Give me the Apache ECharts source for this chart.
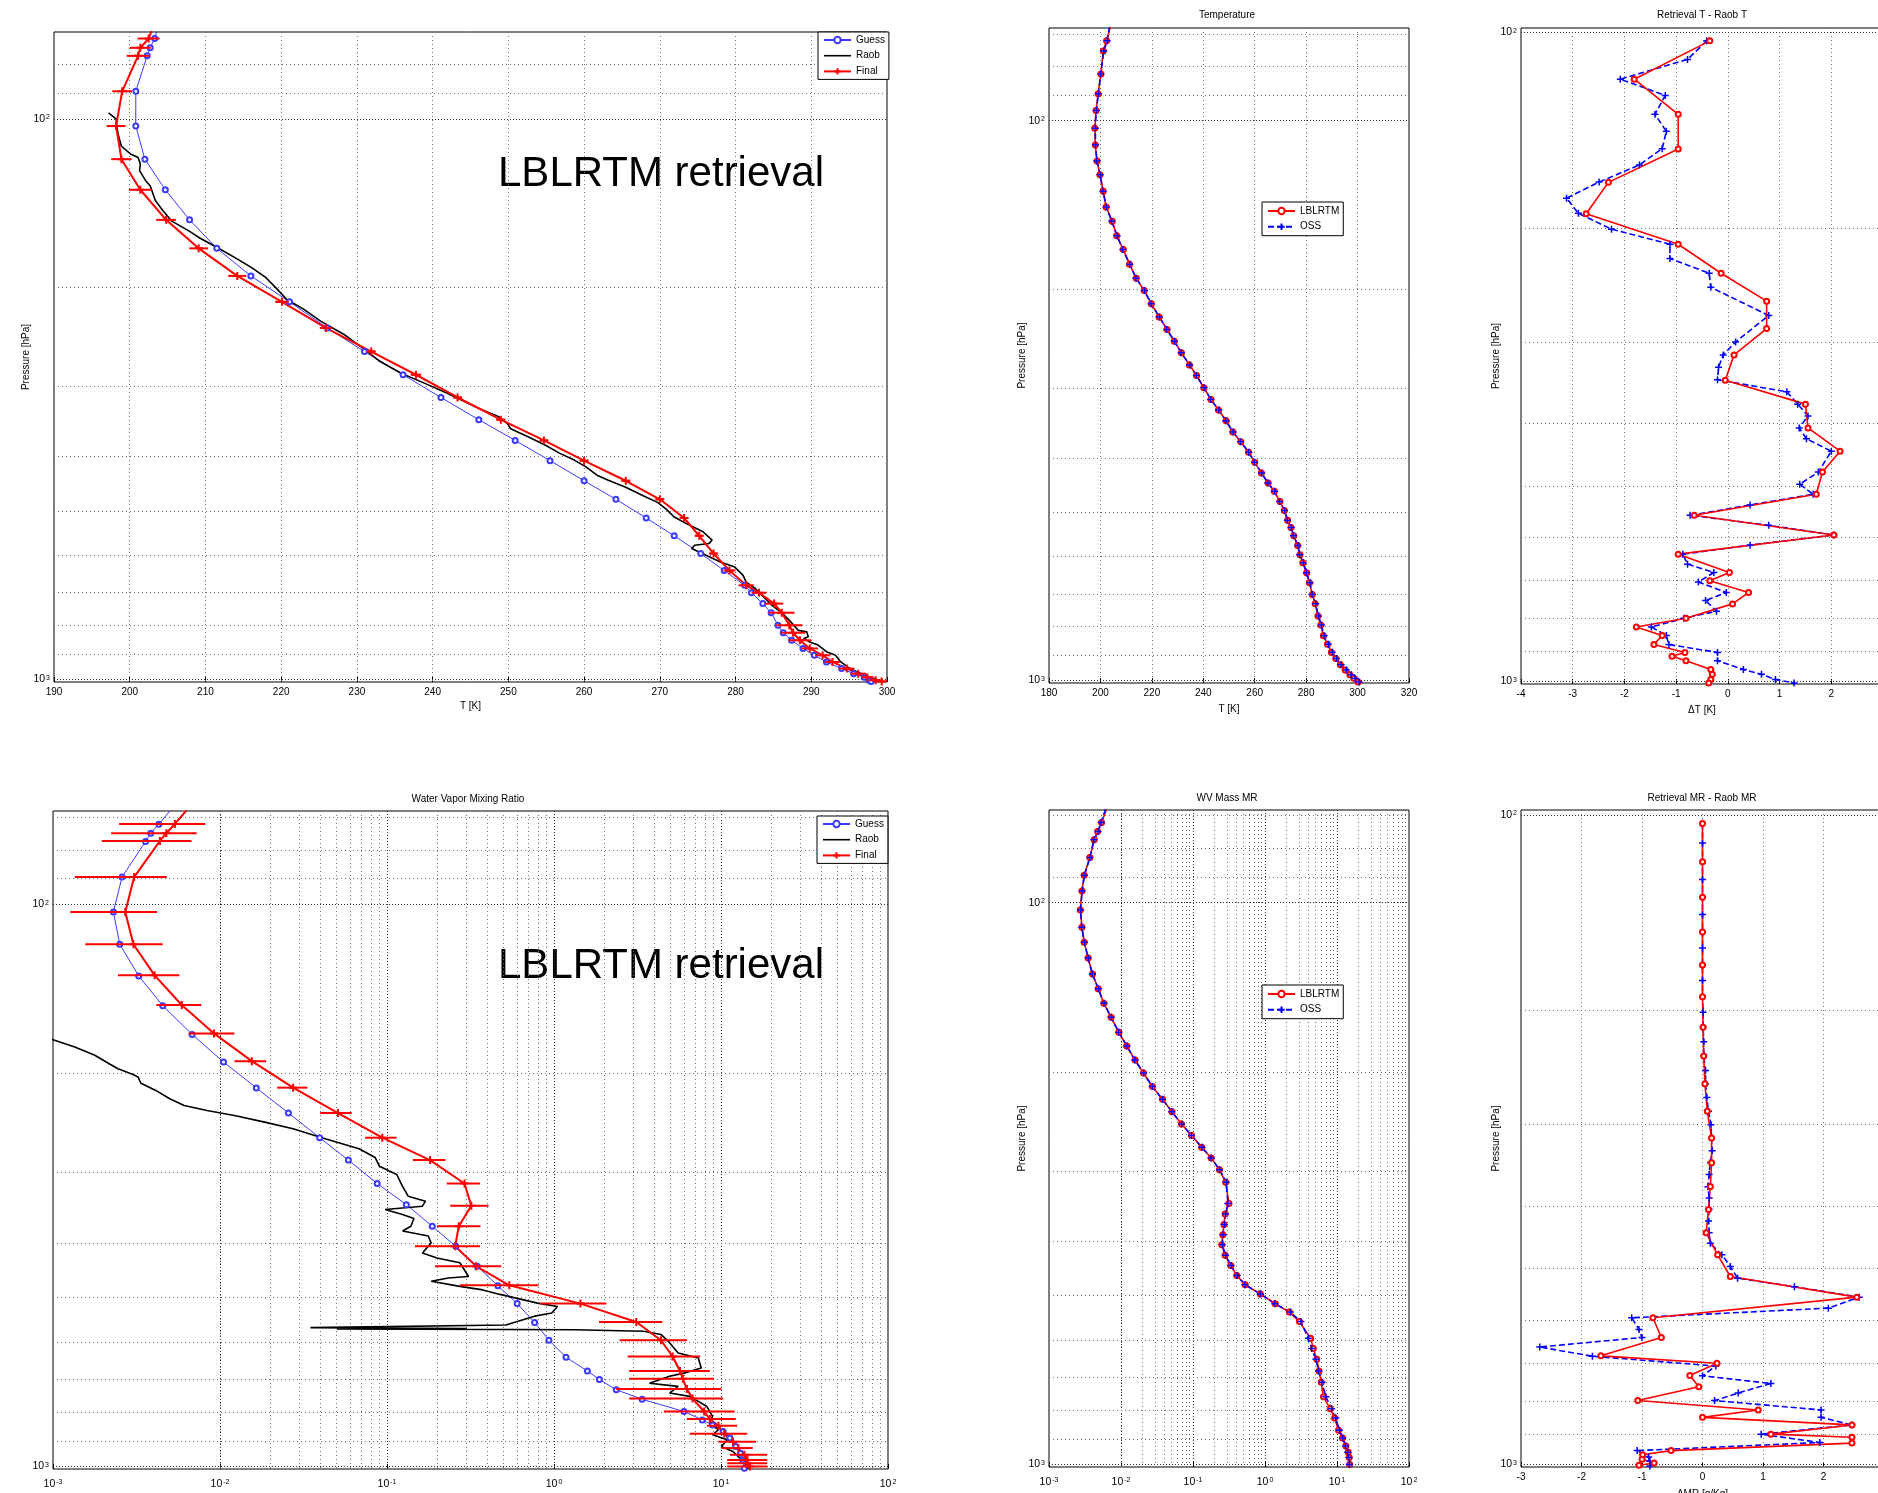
<!DOCTYPE html>
<html>
<head>
<meta charset="utf-8">
<script src="https://cdn.jsdelivr.net/npm/echarts@6/dist/echarts.min.js"></script>
<style>
  html, body { margin: 0; padding: 0; background: #fff; }
  #chart { width: 1878px; height: 1493px; }
</style>
</head>
<body>
<div id="chart"></div>
<script>
const FONT = "'Liberation Sans', Arial, sans-serif"
const PLUS = 'path://M0,5L10,5M5,0L5,10'
const BAR = 'path://M0,0L27,0L27,1.6L0,1.6Z'

// ---- tick / grid levels ----
const P_MINOR_TOP = [70, 80, 90]
const P_LEVELS = [100, 200, 300, 400, 500, 600, 700, 800, 900, 1000]
const W_DECADES = [0.001, 0.01, 0.1, 1, 10, 100]
const W_STEPS = [1, 2, 3, 4, 5, 6, 7, 8, 9]

// ---- top-left: temperature retrieval (K) ----
const tlGuessP = [68, 71.9, 74.7, 77.2, 89.3, 103, 118, 133.8, 151.4, 170.2, 190.6, 212, 236, 260, 286, 314, 344, 374.5, 407, 442, 477, 515, 554, 596, 639, 679, 700, 732, 760, 800, 825, 851, 880, 905, 930, 956, 976, 990, 1003, 1008]
const tlGuessT = [203.8, 203.3, 202.7, 202.3, 200.8, 200.8, 202.0, 204.7, 207.9, 211.5, 216.0, 221.1, 226.1, 231.0, 236.1, 241.1, 246.1, 250.9, 255.5, 260.0, 264.2, 268.2, 271.9, 275.4, 278.5, 281.2, 282.1, 283.6, 284.7, 285.6, 286.3, 287.4, 288.9, 290.4, 292.0, 294.0, 295.6, 297.0, 297.6, 297.9]
const tlFinalT = [203.2, 202.5, 201.4, 201.1, 199.0, 198.2, 198.9, 201.4, 204.8, 209.1, 214.2, 220.1, 225.9, 231.9, 237.8, 243.3, 249.0, 254.7, 260.0, 265.5, 270.0, 273.2, 275.2, 277.1, 279.2, 281.4, 283.1, 285.1, 286.1, 287.1, 287.6, 288.5, 289.8, 291.5, 292.8, 294.7, 296.2, 297.4, 298.5, 299.3]
const tlFinalErr = [1.4, 1.45, 1.4, 1.5, 1.3, 1.25, 1.35, 1.5, 1.3, 1.25, 1.2, 0.9, 0.8, 0.6, 0.7, 0.6, 0.6, 0.6, 0.6, 0.6, 0.6, 0.6, 0.6, 0.6, 0.8, 1.0, 1.0, 1.2, 1.7, 1.7, 1.6, 1.5, 1.1, 1.0, 1.0, 1.0, 1.0, 0.8, 0.8, 0.8]
const tlRaobP = [97.6, 100, 103.5, 107, 111.9, 115.5, 117.2, 120.3, 123.7, 128.9, 131.6, 140, 145.9, 152, 158.4, 163.3, 169.8, 176.8, 184.2, 192, 201.4, 209.8, 218.7, 229.5, 242.4, 259.5, 270, 284.5, 296, 309, 327, 340, 350, 357, 369, 382, 395, 406, 417, 432, 441, 454, 470, 483, 496, 513, 527, 545, 564, 572, 576, 584, 600, 617, 630, 652, 670, 688, 712, 737, 758, 784, 817, 822, 839, 845, 857, 868, 892, 905, 930, 956, 976, 989, 1003, 1010]
const tlRaobT = [197.2, 198.2, 198.3, 198.5, 198.9, 200.1, 201.1, 201.4, 201.3, 202.1, 202.7, 203.4, 204.4, 205.5, 207.8, 209.3, 211.6, 213.9, 216.1, 218.0, 219.5, 220.7, 223.0, 225.2, 228.3, 231.3, 232.9, 235.9, 238.9, 242.0, 245.8, 248.8, 249.9, 250.3, 252.6, 254.9, 256.8, 258.7, 260.2, 261.7, 263.2, 265.5, 267.8, 269.7, 270.8, 271.9, 273.5, 275.7, 276.9, 276.5, 274.6, 274.2, 276.1, 278.0, 279.9, 281.0, 281.4, 282.6, 283.7, 284.8, 286.0, 287.1, 288.3, 289.4, 289.6, 289.0, 289.8, 290.9, 292.0, 293.2, 293.9, 295.1, 296.6, 297.7, 298.9, 299.2]

// ---- top-middle: Temperature, LBLRTM vs OSS ----
const tmP = [67.9, 72.0, 75.1, 82.5, 89.5, 95.9, 103.1, 110.5, 118.0, 124.9, 133.7, 142.6, 151.2, 160.5, 169.8, 180.4, 191.1, 201.1, 212.2, 224.1, 236.0, 247.7, 259.6, 273, 285.1, 299.9, 314.6, 328.6, 343.5, 359.9, 374.5, 390.9, 407.6, 425.8, 443.7, 459, 478.6, 497, 517, 533, 551, 574, 596, 616, 642, 669, 702, 729, 767, 796, 832, 861, 890, 913, 937, 957, 976, 990, 1006]
const tmLblT = [203.9, 202.4, 201.1, 200.2, 199.1, 198.3, 197.8, 198.0, 198.7, 199.8, 201.1, 202.2, 204.6, 206.3, 208.9, 211.3, 213.9, 217.0, 219.8, 222.8, 225.9, 228.7, 231.5, 234.6, 237.4, 240.2, 243.0, 245.9, 248.9, 251.5, 254.6, 257.6, 260.0, 262.6, 265.2, 267.6, 269.8, 271.5, 272.8, 274.1, 275.2, 276.7, 277.6, 278.7, 280.2, 281.3, 282.4, 283.5, 284.6, 285.7, 286.7, 288.3, 289.8, 291.5, 293.3, 295.2, 297.0, 298.5, 300.2]
const tmOssT = [203.5, 202.6, 201.3, 200.1, 199.2, 198.4, 198.0, 198.1, 198.6, 199.9, 201.0, 202.3, 204.4, 206.5, 208.7, 211.4, 213.8, 217.1, 219.7, 222.9, 225.8, 228.8, 231.4, 234.7, 237.3, 240.3, 242.9, 246.0, 248.8, 251.6, 254.5, 257.7, 259.9, 262.7, 265.1, 267.7, 269.7, 271.6, 272.7, 274.2, 275.1, 276.8, 277.5, 278.9, 280.1, 281.5, 282.3, 283.7, 284.8, 285.9, 287.0, 288.6, 290.1, 291.8, 293.6, 295.6, 297.5, 299.0, 300.6]

// ---- top-right: Retrieval T - Raob T (K) ----
const trLblP = [103, 118, 133.7, 151.2, 170.2, 190.3, 212, 235, 259.5, 286, 314, 343.5, 374, 407, 442, 476, 515, 555, 595, 637, 680, 700, 730, 760, 800, 825, 850, 878, 903, 915, 930, 959, 976, 994, 1006]
const trLblD = [-0.35, -1.81, -0.96, -0.96, -2.31, -2.74, -0.96, -0.13, 0.75, 0.75, 0.12, -0.05, 1.50, 1.55, 2.17, 1.83, 1.71, -0.65, 2.05, -0.96, 0.03, -0.35, 0.40, 0.09, -0.81, -1.77, -1.27, -1.43, -0.83, -1.08, -0.81, -0.33, -0.30, -0.33, -0.37]
const trOssP = [103, 110, 118, 125, 133.7, 142, 151, 160, 170, 180, 190, 201, 212, 223, 235, 247, 273, 300, 314, 328, 343, 358, 374, 390, 407, 423, 442, 476, 497, 515, 535, 555, 575, 595, 617, 637, 660, 680, 703, 730, 751, 780, 800, 825, 850, 878, 903, 930, 959, 976, 994, 1006]
const trOssD = [-0.41, -0.78, -2.08, -1.21, -1.41, -1.19, -1.27, -1.71, -2.49, -3.12, -2.89, -2.25, -1.12, -1.12, -0.36, -0.33, 0.79, 0.15, -0.09, -0.18, -0.20, 1.14, 1.35, 1.55, 1.38, 1.52, 2.0, 1.75, 1.39, 1.65, 0.43, -0.73, 0.79, 2.05, 0.43, -0.87, -0.78, -0.27, -0.57, -0.03, -0.43, -0.22, -0.85, -1.48, -1.19, -1.14, -0.20, -0.20, 0.30, 0.65, 0.92, 1.28]

// ---- bottom-left: water vapor mixing ratio (g/kg) ----
const blGuessP = [68.1, 72.0, 74.7, 77.3, 89.4, 103.1, 117.7, 134, 151.4, 170.3, 190.7, 212, 235, 260, 285, 313.7, 342, 373.6, 405.6, 440.3, 476.6, 513, 554, 596, 639, 676, 700, 730, 759, 798, 826, 843, 866, 890, 921, 947, 973, 1007]
const blGuessW = [5.03e-3, 4.30e-3, 3.85e-3, 3.58e-3, 2.59e-3, 2.30e-3, 2.51e-3, 3.26e-3, 4.54e-3, 6.81e-3, 1.05e-2, 1.65e-2, 2.57e-2, 3.95e-2, 5.87e-2, 8.73e-2, 0.1306, 0.1866, 0.258, 0.347, 0.461, 0.602, 0.765, 0.933, 1.18, 1.585, 1.87, 2.36, 3.37, 6.0, 7.73, 8.9, 10.3, 11.3, 12.25, 13.1, 13.5, 13.8]
const blRaobP = [170, 174, 179.3, 185.5, 192, 196, 200.5, 202.7, 208, 214, 221.7, 227.8, 232.6, 237.6, 243.9, 250.7, 260, 272, 282, 292.2, 302.3, 317, 330.4, 337.2, 344.2, 349, 356, 362, 373.6, 381, 389, 400, 417, 425.6, 434, 459, 462, 468, 478, 485, 494, 512, 519, 533, 540, 552, 560, 566, 568, 569, 571, 574.5, 582, 602, 628, 641, 668, 682, 691, 711, 720, 740, 750, 782, 814, 837, 860, 878, 896, 921, 940, 973, 1000, 1008]
const blRaobW = [8e-4, 1.0e-3, 1.35e-3, 1.78e-3, 2.17e-3, 2.45e-3, 2.99e-3, 3.23e-3, 3.36e-3, 4.1e-3, 5.0e-3, 6.1e-3, 8.36e-3, 1.24e-2, 1.85e-2, 2.74e-2, 4.07e-2, 6.8e-2, 8.5e-2, 0.0901, 0.1143, 0.1237, 0.1339, 0.170, 0.163, 0.0975, 0.1237, 0.145, 0.139, 0.124, 0.1767, 0.1837, 0.163, 0.199, 0.273, 0.308, 0.233, 0.184, 0.273, 0.375, 0.475, 0.796, 1.05, 0.97, 0.765, 0.603, 0.515, 0.0348, 0.30, 0.05, 1.33, 3.44, 4.37, 4.92, 5.54, 7.31, 7.62, 6.0, 4.92, 3.73, 5.54, 4.92, 6.5, 8.24, 8.9, 8.57, 9.66, 8.9, 10.9, 10.05, 11.8, 13.3, 14.4, 14.6]
const blFinalP = [68.1, 71.9, 74.7, 77.1, 89.4, 103.1, 117.7, 133.7, 151, 169.6, 190, 211.8, 235, 260, 285, 313.6, 343.5, 373.6, 405.6, 440, 476, 513, 553, 596, 637, 676, 698, 728, 757, 798, 823, 846, 874, 903, 927, 953, 973, 986, 1000]
const blFinalW = [6.28e-3, 5.37e-3, 4.77e-3, 4.37e-3, 3.06e-3, 2.71e-3, 3.03e-3, 4.06e-3, 5.9e-3, 9.2e-3, 1.55e-2, 2.74e-2, 5.09e-2, 9.37e-2, 0.181, 0.291, 0.320, 0.269, 0.256, 0.341, 0.540, 1.44, 3.11, 4.37, 5.13, 5.68, 5.91, 6.25, 6.76, 7.93, 8.57, 9.66, 10.45, 11.8, 12.7, 13.8, 14.4, 14.4, 14.9]
const blFinalLo = [6.28e-3, 2.49e-3, 2.23e-3, 1.96e-3, 1.35e-3, 1.27e-3, 1.56e-3, 2.45e-3, 4.16e-3, 6.49e-3, 1.22e-2, 2.20e-2, 3.98e-2, 7.40e-2, 0.143, 0.228, 0.239, 0.199, 0.147, 0.194, 0.273, 0.828, 1.86, 2.47, 2.76, 2.82, 2.82, 2.36, 2.82, 4.55, 6.25, 8.24, 6.50, 9.66, 10.05, 11.3, 10.9, 10.9, 10.9]
const blFinalHi = [6.28e-3, 8.17e-3, 7.24e-3, 6.75e-3, 4.80e-3, 4.20e-3, 4.54e-3, 5.71e-3, 7.73e-3, 1.22e-2, 1.89e-2, 3.34e-2, 6.15e-2, 0.114, 0.224, 0.361, 0.406, 0.363, 0.361, 0.483, 0.809, 2.06, 4.45, 6.25, 7.50, 8.57, 9.06, 10.05, 10.3, 12.05, 12.25, 12.5, 14.35, 16.2, 15.5, 18.9, 18.9, 18.9, 18.9]

// ---- bottom-middle: WV Mass MR, LBLRTM vs OSS ----
const bmP = [68.1, 72.0, 74.7, 77.3, 83.1, 89.4, 95.3, 103.0, 110.6, 117.6, 125.5, 134, 142.3, 151, 160, 170.1, 180, 190.6, 201, 212.5, 223.9, 235.5, 247.6, 259.6, 272.5, 284.6, 298.6, 314.5, 343.2, 358.1, 373.8, 389.8, 406.2, 424.2, 442.2, 460.9, 478.6, 496.9, 517.4, 535.4, 556.6, 596.2, 621.4, 649.8, 681.4, 714, 757.4, 795.7, 826.2, 868.8, 896.5, 927, 951, 971, 1000]
const bmLblW = [6.3e-3, 5.37e-3, 4.73e-3, 4.25e-3, 3.69e-3, 3.08e-3, 2.87e-3, 2.72e-3, 2.87e-3, 3.08e-3, 3.49e-3, 4.03e-3, 4.82e-3, 5.77e-3, 7.28e-3, 9.34e-3, 0.0120, 0.0157, 0.0205, 0.0273, 0.0377, 0.0510, 0.0692, 0.0955, 0.132, 0.179, 0.233, 0.284, 0.316, 0.279, 0.269, 0.260, 0.251, 0.279, 0.334, 0.406, 0.531, 0.861, 1.39, 2.18, 3.01, 4.30, 4.70, 5.24, 5.62, 6.04, 6.49, 8.04, 9.27, 10.5, 11.9, 13.3, 14.3, 14.8, 15.0]
const bmOssW = [6.1e-3, 5.3e-3, 4.8e-3, 4.2e-3, 3.7e-3, 3.1e-3, 2.88e-3, 2.75e-3, 2.85e-3, 3.1e-3, 3.5e-3, 4.0e-3, 4.85e-3, 5.8e-3, 7.3e-3, 9.3e-3, 0.0121, 0.0156, 0.0206, 0.0272, 0.0378, 0.0508, 0.0695, 0.0950, 0.133, 0.178, 0.234, 0.290, 0.305, 0.283, 0.272, 0.262, 0.255, 0.283, 0.338, 0.41, 0.525, 0.86, 1.37, 2.25, 3.15, 4.0, 4.45, 5.1, 5.55, 6.2, 7.0, 8.4, 9.6, 10.8, 12.0, 13.2, 14.1, 14.6, 14.9]

// ---- bottom-right: Retrieval MR - Raob MR (g/kg) ----
const brLblP = [103.1, 118.1, 133.9, 151.5, 170.3, 190.6, 212.3, 235.1, 259.6, 286, 314.4, 343.4, 373.7, 405.3, 440.3, 476, 514, 553, 595, 638, 681, 699, 730, 760, 798, 825, 847, 870, 899, 909, 928, 953, 967, 983, 996, 1004]
const brLblD = [0, 0, 0, 0, 0, 0, 0.01, 0.02, 0.04, 0.08, 0.15, 0.15, 0.13, 0.10, 0.06, 0.25, 0.46, 2.55, -0.82, -0.68, -1.68, 0.24, -0.21, -0.06, -1.07, 0.92, 0.0, 2.47, 1.13, 2.47, 2.47, -0.52, -0.99, -1.0, -0.80, -1.05]
const brOssP = [103, 110.5, 118, 125.8, 133.9, 142.4, 151.5, 160.3, 170.3, 180, 190.6, 201.3, 212.3, 223.5, 235, 247.5, 259.6, 272.5, 286, 300, 314, 329, 343, 358, 374, 389, 405, 422, 440, 457, 476, 496, 517, 533, 553, 575, 595, 620, 638, 660, 682, 706, 731, 751, 777, 798, 825, 847, 870, 899, 926, 953, 975, 990, 1006]
const brOssD = [0, 0, 0, 0, 0, 0, 0, 0, 0, 0, 0, 0.01, 0.01, 0.02, 0.02, 0.05, 0.05, 0.07, 0.10, 0.14, 0.15, 0.16, 0.13, 0.11, 0.09, 0.11, 0.11, 0.10, 0.11, 0.13, 0.32, 0.46, 0.58, 1.52, 2.59, 2.08, -1.17, -1.05, -1.0, -2.69, -1.82, 0.22, 0.0, 1.13, 0.59, 0.20, 1.96, 1.96, 2.47, 0.97, 1.94, -1.08, -0.89, -0.87, -0.87]

// ---- layout ----
const GRIDS = [
  { left: 54, top: 32, width: 833, height: 650 },    // TL
  { left: 1049, top: 28, width: 360, height: 655 },  // TM
  { left: 1521, top: 28, width: 362, height: 656 },  // TR
  { left: 53, top: 811, width: 835, height: 658 },   // BL
  { left: 1049, top: 810, width: 360, height: 657 }, // BM
  { left: 1521, top: 810, width: 363, height: 657 }, // BR
]

const TXT = { fontFamily: FONT, fontSize: 10, color: '#000' }
const RICH = {
  b: { fontFamily: FONT, fontSize: 10.5, color: '#000', lineHeight: 10, padding: [5, 0, 5, 0] },
  s: { fontFamily: FONT, fontSize: 7, color: '#000', lineHeight: 7, verticalAlign: 'top', padding: [0, 0, 0, 1] },
}

function powLabel(v) {
  const e = Math.log10(v)
  if (Math.abs(e - Math.round(e)) > 1e-6) return ''
  return '{b|10}{s|' + Math.round(e) + '}'
}

function pAxis(idx, min, name, nameGap) {
  return {
    type: 'log', logBase: 10, gridIndex: idx, inverse: true, min, max: 1010,
    name: name || '', nameLocation: 'middle', nameGap: nameGap || 23, nameMoveOverlap: false, nameTextStyle: TXT,
    axisLine: { show: false }, axisTick: { show: false }, splitLine: { show: false },
    axisLabel: { formatter: powLabel, margin: 4, rich: RICH },
  }
}

function valAxis(idx, min, max, interval, name, nameGap) {
  return {
    type: 'value', gridIndex: idx, min, max, interval,
    name: name || '', nameLocation: 'middle', nameGap: nameGap || 20, nameMoveOverlap: false, nameTextStyle: TXT,
    axisLine: { show: false }, splitLine: { show: false },
    axisTick: { show: true, inside: true, length: 5, lineStyle: { color: '#000' } },
    axisLabel: Object.assign({ margin: 5 }, TXT),
  }
}

function wAxis(idx) {
  return {
    type: 'log', logBase: 10, gridIndex: idx, min: 0.001, max: 100,
    axisLine: { show: false }, splitLine: { show: false },
    axisTick: { show: true, inside: true, length: 5, lineStyle: { color: '#000' } },
    axisLabel: { formatter: powLabel, margin: 10, rich: RICH },
  }
}

const MINOR = { color: '#707070', type: [1, 3], width: 1 }
const MAJOR = { color: '#303030', type: [1, 2], width: 1 }

function gridSeries(idx, xs, ys, majorX, majorY) {
  const items = []
  xs.forEach(v => items.push({ xAxis: v, lineStyle: majorX.includes(v) ? MAJOR : MINOR }))
  ys.forEach(v => items.push({ yAxis: v, lineStyle: majorY.includes(v) ? MAJOR : MINOR }))
  return {
    type: 'line', xAxisIndex: idx, yAxisIndex: idx, data: [], silent: true,
    markLine: { silent: true, symbol: 'none', z: 1, animation: false, label: { show: false }, data: items },
  }
}

function lineSeries(name, idx, xs, ys, style) {
  return Object.assign({
    name, type: 'line', xAxisIndex: idx, yAxisIndex: idx, animation: false, z: 3,
    data: xs.map((x, i) => [x, ys[i]]),
  }, style)
}

function errorSeries(idx, lo, hi, ys) {
  return {
    type: 'custom', xAxisIndex: idx, yAxisIndex: idx, silent: true, animation: false, z: 4, clip: true,
    data: ys.map((p, i) => [lo[i], hi[i], p]),
    encode: { x: [0, 1], y: 2 },
    renderItem: (params, api) => {
      const a = api.coord([api.value(0), api.value(2)])
      const b = api.coord([api.value(1), api.value(2)])
      return { type: 'line', shape: { x1: a[0], y1: a[1], x2: b[0], y2: b[1] }, style: { stroke: '#ff0000', lineWidth: 2 } }
    },
  }
}

const GUESS = { symbol: 'emptyCircle', symbolSize: 5, lineStyle: { color: '#3a3aff', width: 1 }, itemStyle: { color: '#3a3aff', borderWidth: 1 } }
const RAOB = { symbol: 'none', lineStyle: { color: '#000', width: 1.6 }, itemStyle: { color: '#000' } }
const FINAL = { symbol: PLUS, symbolSize: 8, lineStyle: { color: '#ff0000', width: 2 }, itemStyle: { color: '#ff0000', borderColor: '#ff0000', borderWidth: 2 } }
const LBL = { symbol: 'emptyCircle', symbolSize: 5, lineStyle: { color: '#ff0000', width: 1.6 }, itemStyle: { color: '#ff0000', borderWidth: 1.2 } }
const OSS = { symbol: PLUS, symbolSize: 7, lineStyle: { color: '#0000ff', width: 1.6, type: [6, 3] }, itemStyle: { color: '#0000ff', borderColor: '#0000ff', borderWidth: 1.5 } }

const tRange = (a, b, s) => { const r = []; for (let v = a; v <= b + 1e-9; v += s) r.push(+v.toFixed(6)); return r }
const wGrid = W_DECADES.slice(0, -1).flatMap(d => W_STEPS.map(k => +(d * k).toPrecision(3))).filter(v => v > 0.001)

function legend(names, left, top, pad) {
  return {
    data: names, left, top, orient: 'vertical', selectedMode: false,
    itemWidth: 27, itemHeight: 8, itemGap: 5.7, padding: [pad, 4, pad, 5],
    borderColor: '#000', borderWidth: 1, backgroundColor: '#fff',
    textStyle: Object.assign({ lineHeight: 10 }, TXT),
  }
}

function label(text, x, y, size) {
  return { type: 'text', x, y, silent: true, style: { text, fontFamily: FONT, fontSize: size || 10, fill: '#000', align: 'center', verticalAlign: 'middle' } }
}

const RETR_NAMES = ['Guess', { name: 'Raob', icon: BAR }, 'Final']

const option = {
  animation: false,
  backgroundColor: '#fff',
  textStyle: { fontFamily: FONT },
  grid: GRIDS.map(g => Object.assign({ show: true, borderColor: '#000', borderWidth: 1, backgroundColor: 'transparent', containLabel: false, outerBoundsMode: 'none' }, g)),
  xAxis: [
    valAxis(0, 190, 300, 10, 'T [K]', 19),
    valAxis(1, 180, 320, 20, 'T [K]', 21),
    valAxis(2, -4, 3, 1, 'ΔT [K]', 21),
    wAxis(3),
    wAxis(4),
    valAxis(5, -3, 3, 1, 'ΔMR [g/Kg]', 22),
  ],
  yAxis: [
    pAxis(0, 70, 'Pressure [hPa]', 23),
    pAxis(1, 68.3, 'Pressure [hPa]', 22),
    pAxis(2, 98.4, 'Pressure [hPa]', 20),
    pAxis(3, 68.2, ''),
    pAxis(4, 68.4, 'Pressure [hPa]', 22),
    pAxis(5, 98.3, 'Pressure [hPa]', 20),
  ],
  legend: [
    legend(RETR_NAMES, 818, 32, 3),
    legend(RETR_NAMES, 817, 816, 3),
    legend(['LBLRTM', 'OSS'], 1262, 202, 4),
    legend(['LBLRTM', 'OSS'], 1262, 985, 4),
  ],
  graphic: [
    label('Temperature', 1227, 15),
    label('Retrieval T - Raob T', 1702, 15),
    label('Water Vapor Mixing Ratio', 468, 799),
    label('WV Mass MR', 1227, 798),
    label('Retrieval MR - Raob MR', 1702, 798),
    label('LBLRTM retrieval', 661, 174, 42),
    label('LBLRTM retrieval', 661, 966, 42),
  ],
  series: [
    gridSeries(0, tRange(200, 290, 10), [80, 90].concat(P_LEVELS), [], [100, 1000]),
    gridSeries(1, tRange(200, 300, 20), P_MINOR_TOP.concat(P_LEVELS), [], [100, 1000]),
    gridSeries(2, tRange(-3, 2, 1), P_LEVELS, [], [100, 1000]),
    gridSeries(3, wGrid, P_MINOR_TOP.concat(P_LEVELS), W_DECADES, [100, 1000]),
    gridSeries(4, wGrid, P_MINOR_TOP.concat(P_LEVELS), W_DECADES, [100, 1000]),
    gridSeries(5, tRange(-2, 2, 1), P_LEVELS, [], [100, 1000]),

    lineSeries('Guess', 0, tlGuessT, tlGuessP, GUESS),
    lineSeries('Raob', 0, tlRaobT, tlRaobP, RAOB),
    lineSeries('Final', 0, tlFinalT, tlGuessP, FINAL),
    errorSeries(0, tlFinalT.map((t, i) => t - tlFinalErr[i]), tlFinalT.map((t, i) => t + tlFinalErr[i]), tlGuessP),

    lineSeries('LBLRTM', 1, tmLblT, tmP, LBL),
    lineSeries('OSS', 1, tmOssT, tmP, OSS),

    lineSeries('OSS', 2, trOssD, trOssP, OSS),
    lineSeries('LBLRTM', 2, trLblD, trLblP, LBL),

    lineSeries('Guess', 3, blGuessW, blGuessP, GUESS),
    lineSeries('Raob', 3, blRaobW, blRaobP, RAOB),
    lineSeries('Final', 3, blFinalW, blFinalP, FINAL),
    errorSeries(3, blFinalLo, blFinalHi, blFinalP),

    lineSeries('LBLRTM', 4, bmLblW, bmP, LBL),
    lineSeries('OSS', 4, bmOssW, bmP, OSS),

    lineSeries('OSS', 5, brOssD, brOssP, OSS),
    lineSeries('LBLRTM', 5, brLblD, brLblP, LBL),
  ],
}

const chart = echarts.init(document.getElementById('chart'))
chart.setOption(option)
</script>
</body>
</html>
